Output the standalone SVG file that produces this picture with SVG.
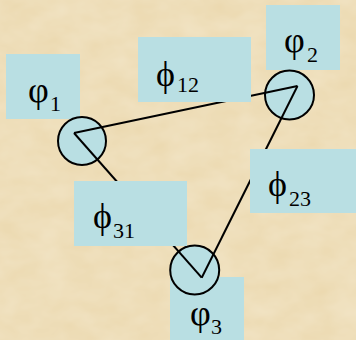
<svg xmlns="http://www.w3.org/2000/svg" width="356" height="340" viewBox="0 0 356 340">
<defs>
<filter id="tex" x="0" y="0" width="100%" height="100%">
<feTurbulence type="fractalNoise" baseFrequency="0.03 0.05" numOctaves="3" seed="4" result="n"/>
<feColorMatrix in="n" type="matrix" values="0 0 0 0 0.97  0 0 0 0 0.92  0 0 0 0 0.80  0 0 0 0.4 0"/>
</filter>
</defs>
<style>
.box{fill:#B9DFE3;stroke:none}
.node{fill:#B9DFE3;stroke:#000;stroke-width:2}
.edge{stroke:#000;stroke-width:2;fill:none}
.lbl{font-family:"Liberation Serif","Times New Roman",serif;font-size:36px;fill:#000}
.sub{font-size:22px}
</style>
<rect x="0" y="0" width="356" height="340" fill="#EBD8AE"/>
<rect x="0" y="0" width="356" height="340" filter="url(#tex)"/>
<g id="label-phi1"><rect class="box" x="6" y="54" width="74" height="65"/><text class="lbl" x="28" y="102">φ<tspan class="sub" x="50" y="111">1</tspan></text></g>
<g id="label-phi2"><rect class="box" x="266" y="5" width="74" height="65"/><text class="lbl" x="284" y="52">φ<tspan class="sub" x="307" y="62">2</tspan></text></g>
<g id="label-phi3"><rect class="box" x="170" y="277" width="74" height="65"/><text class="lbl" x="190" y="325">φ<tspan class="sub" x="211" y="334">3</tspan></text></g>
<g id="node1"><circle class="node" cx="82" cy="141" r="24"/></g>
<g id="node2"><circle class="node" cx="289.5" cy="95" r="24.5"/></g>
<g id="node3"><circle class="node" cx="194.7" cy="270" r="24.5"/></g>
<g id="connectors">
<line class="edge" x1="74" y1="133" x2="297.5" y2="86"/>
<line class="edge" x1="297.5" y1="86" x2="201.7" y2="277.7"/>
<line class="edge" x1="201.7" y1="277.7" x2="74" y2="133"/>
</g>
<g id="label-phi12"><rect class="box" x="138" y="37" width="113" height="65"/><text class="lbl" x="156" y="86">ϕ<tspan class="sub" x="177" y="92">12</tspan></text></g>
<g id="label-phi23"><rect class="box" x="250" y="149" width="113" height="64"/><text class="lbl" x="268" y="196">ϕ<tspan class="sub" x="289" y="206">23</tspan></text></g>
<g id="label-phi31"><rect class="box" x="74" y="181" width="113" height="65"/><text class="lbl" x="93" y="228">ϕ<tspan class="sub" x="113" y="238">31</tspan></text></g>
</svg>
